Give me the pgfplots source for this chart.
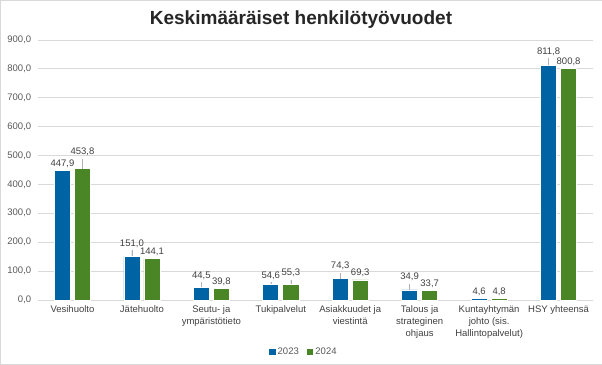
\documentclass[border=0pt]{standalone}
\usepackage{pgfplots}
\pgfplotsset{compat=1.18}
\usepackage{pgfplotstable}
\usepackage{fontspec}
\setmainfont{Liberation Sans}
\definecolor{cblue}{HTML}{0063A3}
\definecolor{cgreen}{HTML}{4A8526}
\definecolor{gridc}{HTML}{D9D9D9}
\definecolor{txt}{HTML}{595959}
\definecolor{lbl}{HTML}{404040}

\pgfplotstableread{
x y off
0 447.9 0
1 151.0 6
2 44.5 5
3 54.6 2
4 74.3 5.5
5 34.9 6
6 4.6 0
7 811.8 7
}\dataA
\pgfplotstableread{
x y off
0 453.8 10
1 144.1 0
2 39.8 0
3 55.3 4
4 69.3 0
5 33.7 0
6 4.8 0
7 800.8 0
}\dataB

\begin{document}
\begin{tikzpicture}
\draw[draw=gridc] (-37.5pt,-64.5pt) rectangle (563.5pt,299.5pt);
\node[font=\fontsize{19}{22}\selectfont\bfseries, text=black!85] at (263pt,280pt) {Keskimääräiset henkilötyövuodet};
\begin{axis}[
  at={(0pt,0pt)}, anchor=south west,
  scale only axis, width=555pt, height=260pt,
  ymin=0, ymax=900, xmin=-0.5, xmax=7.5,
  ybar=4pt, bar width=16pt,
  ytick={0,100,...,900},
  yticklabel style={font=\fontsize{9.5}{11}\selectfont, text=txt, xshift=-3pt, /pgf/number format/.cd, fixed, fixed zerofill, precision=1, use comma, 1000 sep={}, assume math mode=true},
  xtick={0,...,7},
  xticklabels={Vesihuolto, Jätehuolto, {Seutu- ja\\ympäristötieto}, Tukipalvelut, {Asiakkuudet ja\\viestintä}, {Talous ja\\strateginen\\ohjaus}, {Kuntayhtymän\\johto (sis.\\Hallintopalvelut)}, HSY yhteensä},
  xticklabel style={align=center, font=\fontsize{9.5}{12}\selectfont, text=lbl, inner sep=2pt, yshift=-3pt},
  major tick length=0pt,
  axis lines*=left,
  separate axis lines,
  x axis line style={draw=gridc},
  y axis line style={draw=none},
  ymajorgrids, grid style={draw=gridc},
  legend style={at={(0.479,-0.2)}, anchor=center, draw=none, legend columns=2, font=\fontsize{9.5}{11}\selectfont, text=txt, /tikz/every even column/.append style={column sep=6pt}},
  legend image code/.code={\fill[#1, draw=none] (0pt,-3.3pt) rectangle (6.6pt,3.3pt);},
  nodes near coords={\pgfmathprintnumber[fixed,fixed zerofill,precision=1,use comma,assume math mode=true]{\pgfplotspointmeta}},
  every node near coord/.append style={font=\fontsize{9.5}{11}\selectfont, text=lbl, anchor=south, inner sep=2.5pt, yshift=\off pt, append after command={(\tikzlastnode.south) edge[draw=black!30, line width=0.5pt] ++(0pt,-\off pt)}},
]
\addplot[fill=cblue, draw=white, line width=0.6pt, visualization depends on={\thisrow{off}\as\off}] table[x=x,y=y] {\dataA};
\addplot[fill=cgreen, draw=white, line width=0.6pt, visualization depends on={\thisrow{off}\as\off}] table[x=x,y=y] {\dataB};
\legend{2023, 2024}
\end{axis}
\end{tikzpicture}
\end{document}
